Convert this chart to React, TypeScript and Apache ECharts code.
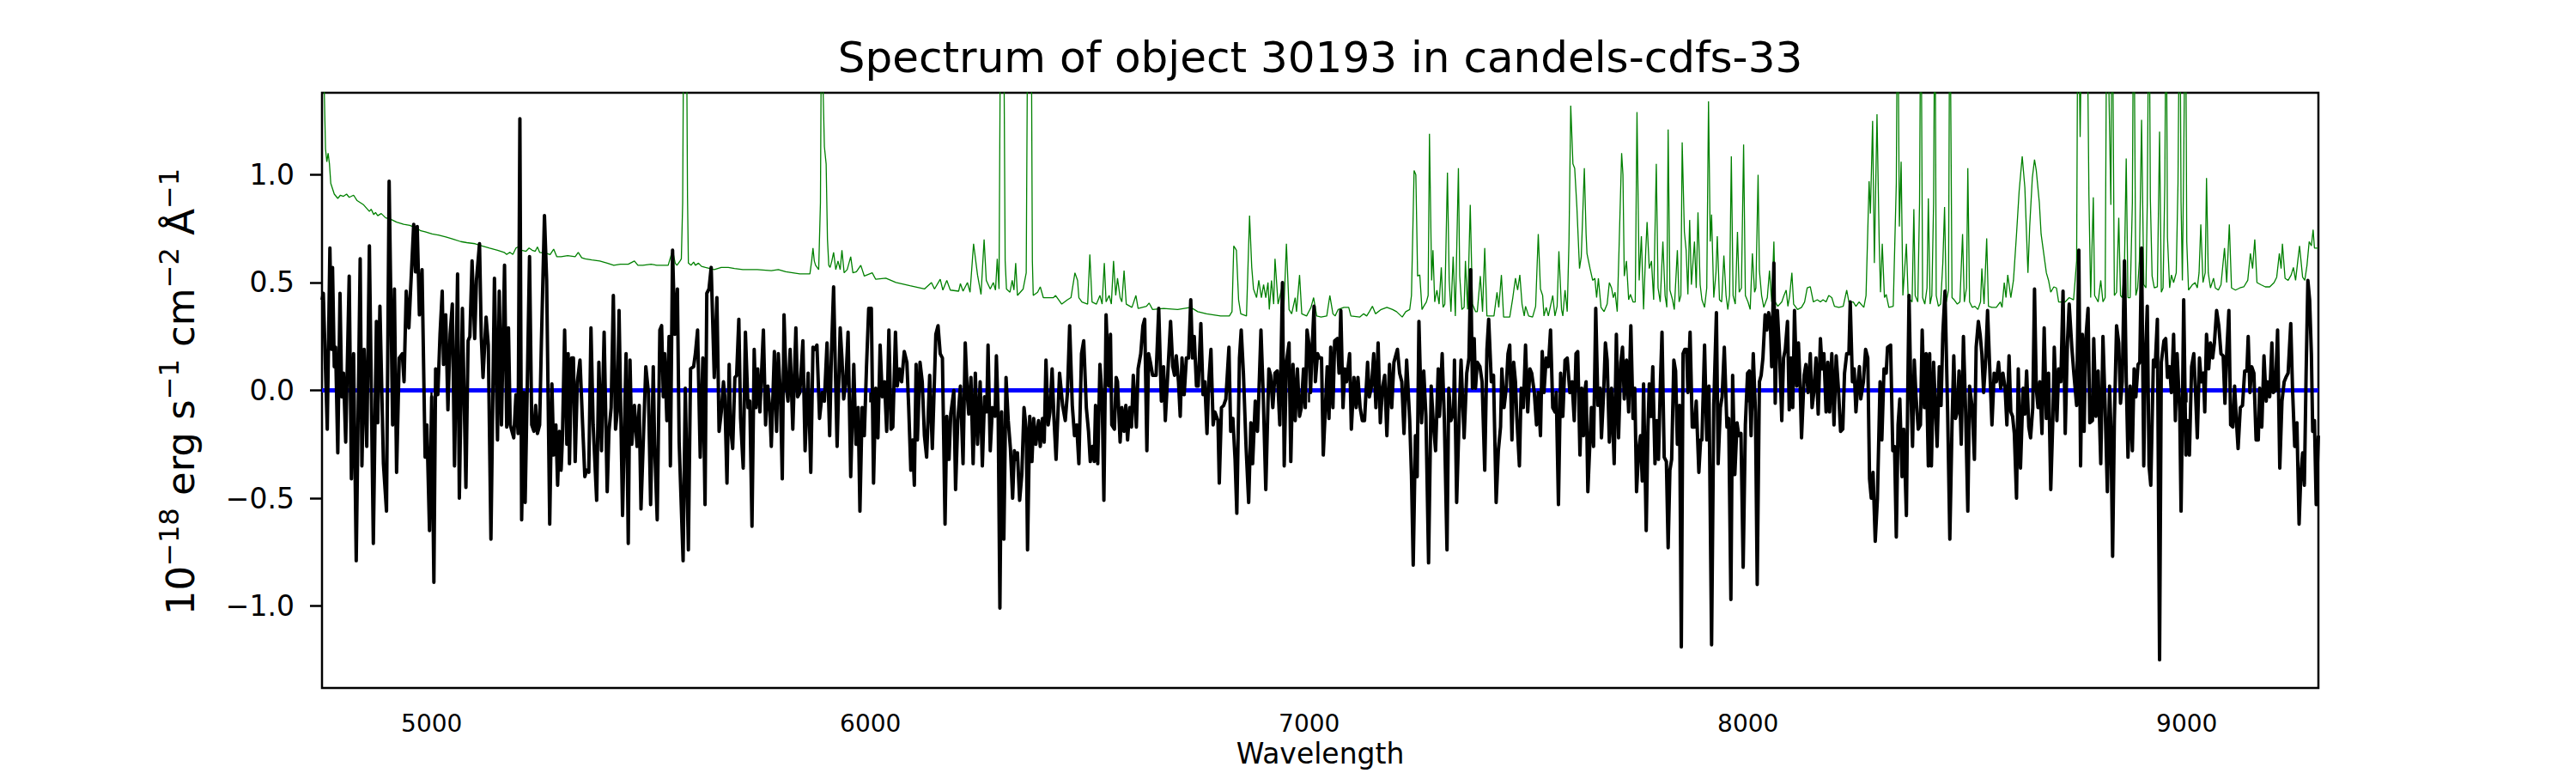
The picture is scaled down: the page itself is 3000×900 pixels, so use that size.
import React, { useEffect, useRef } from "react";
import * as echarts from "echarts";

const titleText = "Spectrum of object 30193 in candels-cdfs-33";
const xAxisTitle = "Wavelength";
const xRange = [4750, 9300];
const yRange = [-1.38, 1.38];
const xTicks = [5000, 6000, 7000, 8000, 9000];
const yTicks = [-1, -0.5, 0, 0.5, 1];

// observed flux (black), 1e-18 erg/s/cm2/A
const fluxSpectrum: [number, number][] = [
  [4750,0.42],[4753,0.45],[4762,-0.18],[4768,0.66],[4772,0.19],[4774,0.57],[4778,0.11],[4781,0.2],[4786,-0.29],[4791,0.45],[4795,-0.03],[4799,0.08],[4804,-0.24],[4812,0.53],[4817,-0.41],[4822,0.17],[4828,-0.79],[4837,0.61],[4841,-0.35],[4846,0.19],[4852,-0.26],[4858,0.67],[4867,-0.71],[4874,0.32],[4877,-0.15],[4882,0.39],[4890,-0.34],[4897,-0.56],[4903,0.97],[4911,-0.16],[4915,0.47],[4920,-0.38],[4926,0.15],[4933,0.17],[4937,0.04],[4942,0.46],[4948,0.29],[4952,0.47],[4959,0.77],[4963,0.55],[4967,0.76],[4972,0.35],[4978,0.56],[4985,-0.31],[4989,-0.16],[4995,-0.65],[5000,-0.03],[5005,-0.89],[5009,0.1],[5014,-0.02],[5019,0.26],[5024,0.46],[5027,0.12],[5032,0.35],[5037,-0.09],[5042,0.26],[5047,0.4],[5052,-0.35],[5059,0.54],[5063,-0.5],[5070,0.38],[5078,-0.45],[5083,0.23],[5087,0.25],[5092,0.6],[5098,0.24],[5102,0.51],[5109,0.68],[5113,0.25],[5117,0.06],[5124,0.34],[5129,0.21],[5135,-0.69],[5143,0.52],[5150,-0.23],[5154,0.46],[5159,-0.16],[5166,0.58],[5171,-0.17],[5175,0.29],[5179,-0.16],[5187,-0.22],[5192,-0.02],[5197,-0.2],[5201,1.26],[5205,-0.6],[5210,-0.01],[5213,-0.52],[5218,0.04],[5223,0.62],[5228,-0.16],[5233,-0.19],[5237,-0.07],[5241,-0.2],[5246,-0.16],[5250,0.22],[5257,0.81],[5262,0.51],[5269,-0.62],[5274,0.03],[5278,-0.3],[5283,-0.16],[5287,-0.44],[5291,-0.19],[5295,-0.37],[5298,-0.22],[5303,0.28],[5308,-0.25],[5311,0.17],[5314,-0.34],[5319,0.15],[5323,0.15],
  [5327,-0.33],[5332,0.04],[5338,0.14],[5344,-0.16],[5349,-0.4],[5353,-0.37],[5358,-0.38],[5363,0.29],[5368,-0.16],[5376,-0.51],[5381,0.13],[5387,-0.28],[5393,0.27],[5400,-0.47],[5404,-0.19],[5409,-0.08],[5414,0.44],[5419,-0.18],[5423,-0.1],[5427,0.37],[5435,-0.58],[5443,0.17],[5448,-0.71],[5452,0.14],[5456,-0.25],[5462,-0.07],[5468,-0.26],[5473,-0.07],[5477,-0.55],[5484,-0.13],[5488,0.11],[5494,-0.01],[5499,-0.53],[5505,0.11],[5508,-0.25],[5514,-0.6],[5520,0.28],[5524,0.3],[5528,-0.03],[5531,0.17],[5536,-0.14],[5541,0.25],[5544,-0.35],[5549,0.65],[5554,0.26],[5560,0.47],[5564,-0.24],[5573,-0.79],[5578,0.01],[5585,-0.74],[5590,0.1],[5597,0.11],[5601,0.17],[5606,0.28],[5612,-0.31],[5618,0.15],[5623,-0.53],[5627,0.45],[5632,0.47],[5637,0.57],[5644,0.06],[5650,0.43],[5655,-0.19],[5660,-0.1],[5665,0.04],[5668,-0.03],[5673,-0.43],[5678,0.12],[5681,-0.17],[5686,-0.27],[5691,0.06],[5695,0.07],[5700,0.33],[5704,-0.13],[5710,-0.36],[5715,0.27],[5721,-0.08],[5725,-0.05],[5730,-0.63],[5735,0.19],[5739,-0.08],[5743,0.1],[5748,-0.1],[5756,0.28],[5761,-0.16],[5766,0.02],[5771,-0.1],[5774,-0.26],[5781,0.18],[5786,-0.19],[5790,0.17],[5795,-0.03],[5799,-0.41],[5803,0.35],[5808,0.02],[5812,-0.05],[5817,0.19],[5823,-0.18],[5830,0.29],[5834,-0.03],[5839,-0.01],[5846,0.23],[5851,-0.28],[5858,0.08],[5864,-0.38],[5869,0.2],[5873,0.19],[5878,0.21],[5884,-0.13],[5890,-0.01],[5895,-0.05],[5901,0.22],
  [5907,-0.21],[5911,0.17],[5916,0.48],[5920,0.1],[5924,-0.26],[5931,0.29],[5935,0.15],[5939,-0.04],[5944,0.04],[5949,0.27],[5955,-0.4],[5962,0.12],[5967,-0.25],[5972,-0.08],[5976,-0.56],[5981,-0.08],[5986,-0.21],[5991,0.11],[5996,0.38],[6002,0.38],[6007,-0.43],[6012,0.01],[6017,-0.22],[6022,0.21],[6027,-0.03],[6032,0.04],[6037,-0.19],[6042,0.28],[6047,-0.18],[6051,-0.17],[6057,0.27],[6061,0.02],[6066,0.1],[6071,0.04],[6077,0.18],[6083,0.13],[6087,-0.07],[6092,-0.37],[6096,-0.23],[6100,-0.44],[6104,0.12],[6107,-0.23],[6113,0.13],[6118,0.04],[6123,-0.21],[6128,-0.31],[6135,0.07],[6141,-0.27],[6149,0.26],[6154,0.3],[6159,0.17],[6164,0.15],[6170,-0.62],[6174,-0.12],[6179,-0.32],[6183,-0.11],[6190,0.0],[6194,-0.46],[6199,-0.14],[6205,0.02],[6211,-0.34],[6216,0.22],[6221,-0.03],[6224,-0.11],[6229,0.06],[6234,-0.34],[6239,0.08],[6244,-0.25],[6250,0.04],[6255,-0.35],[6260,-0.03],[6265,-0.1],[6268,0.21],[6273,-0.28],[6278,-0.08],[6284,-0.12],[6287,0.16],[6291,-0.1],[6295,-1.01],[6299,-0.1],[6304,-0.69],[6309,0.06],[6314,-0.14],[6319,-0.27],[6324,-0.5],[6328,-0.28],[6332,-0.32],[6335,-0.29],[6340,-0.51],[6345,-0.39],[6350,-0.08],[6355,-0.18],[6358,-0.74],[6363,-0.12],[6368,-0.33],[6372,-0.13],[6377,-0.25],[6383,-0.14],[6387,-0.26],[6392,-0.13],[6396,-0.24],[6400,0.14],[6405,-0.16],[6409,-0.1],[6414,0.1],[6418,-0.12],[6423,-0.32],[6431,0.08],[6438,-0.07],[6444,-0.14],[6449,-0.01],[6454,0.3],[6460,-0.07],[6465,-0.21],[6470,-0.16],[6475,-0.34],[6481,0.17],
  [6486,0.23],[6492,-0.08],[6497,-0.19],[6501,-0.33],[6506,-0.26],[6510,-0.33],[6513,-0.07],[6518,-0.34],[6523,0.12],[6528,-0.03],[6532,-0.51],[6537,0.35],[6543,0.02],[6547,0.26],[6550,-0.16],[6556,-0.18],[6560,0.06],[6563,0.04],[6569,-0.24],[6573,-0.08],[6578,-0.19],[6582,-0.07],[6586,-0.23],[6591,-0.08],[6595,-0.17],[6599,0.07],[6606,-0.17],[6610,0.1],[6616,0.17],[6621,0.3],[6625,0.33],[6630,-0.28],[6634,0.17],[6638,0.13],[6643,0.07],[6651,0.07],[6657,0.38],[6663,-0.05],[6668,0.11],[6672,-0.14],[6678,0.09],[6684,0.32],[6689,0.11],[6693,0.07],[6697,0.16],[6702,0.04],[6706,-0.12],[6710,0.15],[6715,-0.02],[6720,0.15],[6725,0.15],[6730,0.42],[6734,0.15],[6738,0.25],[6743,0.02],[6747,0.02],[6753,0.31],[6758,-0.02],[6762,0.04],[6767,-0.2],[6771,0.04],[6776,0.19],[6781,-0.16],[6785,-0.1],[6792,-0.14],[6795,-0.43],[6800,-0.08],[6805,-0.07],[6810,-0.04],[6817,0.2],[6821,-0.19],[6826,-0.13],[6831,-0.32],[6835,-0.57],[6841,0.15],[6845,0.28],[6850,0.08],[6856,-0.26],[6862,-0.52],[6867,-0.15],[6871,-0.34],[6877,-0.05],[6882,-0.19],[6885,-0.03],[6890,0.28],[6895,-0.01],[6901,-0.46],[6908,0.1],[6912,0.07],[6917,-0.08],[6922,0.08],[6927,0.09],[6933,-0.16],[6939,0.5],[6943,-0.35],[6948,0.13],[6954,0.22],[6958,-0.33],[6963,0.12],[6968,-0.14],[6973,0.1],[6978,-0.12],[6982,-0.08],[6987,0.1],[6991,-0.08],[6995,0.28],[6999,0.22],[7003,-0.01],[7006,0.17],[7011,0.39],[7014,0.04],[7019,0.17],[7023,0.15],[7028,0.15],[7032,-0.3],[7036,-0.12],[7041,0.11],[7045,-0.13],[7049,0.2],[7054,-0.08],[7058,0.23],
  [7064,0.24],[7068,0.08],[7072,0.37],[7077,-0.08],[7081,0.1],[7085,0.04],[7092,0.17],[7096,-0.18],[7102,0.06],[7107,-0.08],[7111,0.06],[7116,-0.08],[7121,-0.14],[7126,-0.14],[7133,0.13],[7137,-0.03],[7142,0.02],[7147,0.17],[7152,-0.08],[7157,0.22],[7162,-0.15],[7167,0.01],[7172,0.07],[7177,-0.21],[7183,0.12],[7188,-0.08],[7193,0.13],[7201,0.19],[7206,0.08],[7211,0.04],[7216,-0.2],[7222,0.14],[7229,-0.14],[7233,-0.39],[7237,-0.81],[7242,-0.21],[7246,-0.4],[7250,0.32],[7256,-0.15],[7261,0.09],[7266,-0.12],[7272,-0.8],[7278,0.02],[7283,-0.16],[7288,-0.28],[7294,0.1],[7297,-0.12],[7303,0.17],[7308,-0.14],[7314,-0.74],[7318,0.01],[7323,-0.14],[7329,-0.1],[7331,0.14],[7336,-0.52],[7342,-0.1],[7346,0.14],[7353,-0.22],[7359,0.08],[7364,0.15],[7368,0.56],[7372,0.01],[7376,0.24],[7379,0.01],[7383,0.13],[7389,0.11],[7394,0.04],[7400,-0.37],[7405,0.19],[7409,0.33],[7415,0.04],[7420,0.07],[7426,-0.52],[7431,-0.28],[7436,-0.17],[7439,0.1],[7444,-0.08],[7449,0.01],[7453,0.17],[7457,0.21],[7462,-0.23],[7466,0.13],[7470,0.04],[7473,-0.12],[7479,-0.35],[7483,0.01],[7488,-0.08],[7493,0.21],[7498,-0.1],[7503,0.1],[7507,0.08],[7513,-0.01],[7518,-0.16],[7522,-0.01],[7527,-0.21],[7531,0.18],[7535,-0.01],[7540,0.15],[7545,0.11],[7550,0.28],[7555,-0.08],[7560,-0.1],[7563,-0.01],[7568,-0.53],[7573,0.08],[7578,-0.12],[7583,0.14],[7588,0.15],[7594,-0.01],[7599,0.04],[7604,-0.14],[7608,0.17],[7612,0.18],[7617,-0.3],[7621,0.01],[7625,-0.21],[7629,0.01],[7631,0.04],[7635,-0.47],
  [7643,-0.08],[7648,-0.26],[7653,0.38],[7658,-0.07],[7663,0.01],[7666,-0.22],[7671,-0.01],[7675,0.22],[7679,0.14],[7684,-0.24],[7689,0.01],[7695,-0.34],[7700,0.26],[7705,-0.22],[7710,0.13],[7714,0.2],[7718,-0.04],[7723,0.14],[7728,-0.1],[7733,0.3],[7738,-0.13],[7742,0.01],[7746,-0.47],[7751,-0.27],[7755,-0.21],[7759,-0.42],[7762,0.03],[7768,-0.65],[7772,-0.17],[7775,0.03],[7779,-0.12],[7783,0.11],[7788,-0.34],[7792,-0.14],[7796,-0.32],[7800,0.01],[7804,0.27],[7809,-0.31],[7814,-0.33],[7818,-0.73],[7822,-0.37],[7826,-0.32],[7831,0.14],[7835,0.09],[7839,-0.25],[7844,-0.07],[7848,-1.19],[7852,0.17],[7856,0.19],[7860,0.19],[7863,-0.01],[7868,0.27],[7873,-0.17],[7878,-0.17],[7882,-0.05],[7888,-0.38],[7892,-0.23],[7895,-0.23],[7901,0.21],[7906,-0.23],[7911,0.02],[7917,-1.18],[7922,-0.07],[7928,0.36],[7932,-0.34],[7937,-0.08],[7941,-0.03],[7946,0.2],[7952,-0.17],[7956,-0.13],[7961,-0.97],[7965,0.07],[7970,-0.39],[7975,-0.15],[7979,-0.21],[7984,-0.2],[7989,-0.82],[7994,-0.16],[7999,0.08],[8003,0.09],[8007,-0.21],[8012,0.17],[8017,-0.1],[8021,-0.9],[8026,0.04],[8030,0.07],[8034,0.15],[8039,0.35],[8043,0.28],[8047,0.36],[8051,0.31],[8054,0.11],[8059,0.59],[8062,-0.06],[8067,0.37],[8072,0.17],[8077,-0.14],[8081,0.15],[8085,0.19],[8090,0.32],[8094,-0.09],[8098,0.15],[8102,-0.08],[8106,0.37],[8111,0.02],[8115,0.22],[8119,0.01],[8122,-0.22],[8128,0.07],[8132,0.12],[8137,-0.01],[8142,0.17],[8146,-0.08],[8150,-0.01],[8155,0.15],[8160,-0.11],[8165,0.24],[8169,0.1],[8173,0.17],[8178,-0.1],[8182,0.13],[8186,-0.1],[8191,0.17],[8196,-0.16],[8201,0.16],[8206,0.01],[8211,-0.19],
  [8216,-0.18],[8220,0.08],[8225,0.17],[8230,0.17],[8233,0.41],[8238,0.04],[8242,0.1],[8246,-0.1],[8250,0.02],[8254,0.11],[8257,-0.04],[8263,0.04],[8268,0.19],[8273,0.15],[8277,-0.41],[8281,-0.5],[8285,-0.38],[8290,-0.7],[8295,-0.5],[8301,0.04],[8305,-0.23],[8310,0.1],[8315,0.08],[8318,0.2],[8325,0.21],[8330,-0.28],[8334,-0.26],[8338,-0.68],[8342,-0.16],[8346,-0.04],[8351,-0.4],[8355,-0.18],[8361,-0.58],[8364,-0.03],[8367,0.44],[8371,0.01],[8375,-0.26],[8379,0.14],[8383,-0.03],[8388,-0.18],[8393,-0.16],[8397,0.28],[8402,-0.08],[8406,0.17],[8411,-0.35],[8414,0.17],[8418,-0.35],[8423,0.13],[8427,-0.07],[8431,-0.26],[8436,0.11],[8440,-0.07],[8444,0.26],[8449,0.46],[8455,-0.1],[8460,-0.69],[8465,-0.16],[8469,0.16],[8473,-0.13],[8477,-0.1],[8481,0.09],[8486,-0.25],[8491,0.25],[8496,-0.1],[8501,-0.56],[8505,0.02],[8511,-0.08],[8516,-0.32],[8520,0.2],[8525,0.32],[8529,0.26],[8533,0.17],[8537,-0.01],[8542,0.15],[8546,0.37],[8551,0.1],[8556,-0.16],[8561,0.08],[8566,0.04],[8571,0.13],[8576,0.01],[8581,0.08],[8586,0.01],[8590,-0.16],[8595,0.16],[8599,-0.1],[8603,-0.12],[8607,-0.2],[8612,-0.5],[8616,0.1],[8621,-0.36],[8627,0.01],[8631,-0.11],[8635,0.09],[8640,-0.17],[8644,-0.22],[8649,-0.08],[8653,0.47],[8657,0.01],[8661,-0.08],[8665,0.04],[8670,-0.2],[8675,0.29],[8680,-0.13],[8685,0.08],[8690,-0.46],[8695,-0.12],[8698,0.2],[8704,-0.14],[8708,0.1],[8713,0.04],[8718,0.46],[8723,-0.2],[8728,0.22],[8732,0.4],[8738,0.2],[8743,0.07],[8749,-0.07],[8754,0.65],[8758,-0.35],[8762,0.26],[8766,-0.19],[8770,0.24],[8775,0.38],[8779,-0.15],[8785,-0.14],[8788,0.24],
  [8793,-0.12],[8798,0.09],[8804,-0.34],[8809,0.25],[8814,-0.08],[8819,-0.47],[8824,0.02],[8827,-0.17],[8831,-0.77],[8835,-0.14],[8840,0.3],[8845,0.22],[8849,-0.06],[8853,0.04],[8858,0.6],[8862,0.06],[8866,-0.31],[8871,0.02],[8876,-0.28],[8880,0.1],[8884,-0.03],[8889,0.12],[8893,0.13],[8897,0.66],[8902,-0.35],[8905,0.1],[8910,0.39],[8914,-0.35],[8918,-0.44],[8924,0.14],[8928,0.11],[8933,0.33],[8938,-1.25],[8942,0.13],[8948,0.23],[8952,0.24],[8956,0.06],[8961,0.11],[8965,-0.01],[8970,0.26],[8974,-0.14],[8978,0.17],[8984,-0.1],[8987,-0.56],[8990,-0.1],[8993,0.42],[8998,-0.3],[9002,-0.14],[9006,-0.3],[9011,0.11],[9016,0.17],[9020,-0.01],[9024,-0.22],[9029,0.15],[9033,0.04],[9038,0.08],[9041,-0.1],[9045,0.26],[9050,0.1],[9054,0.22],[9059,0.15],[9063,0.22],[9068,0.37],[9073,0.3],[9078,0.17],[9083,0.16],[9087,-0.06],[9091,0.17],[9096,0.37],[9100,-0.16],[9105,-0.17],[9109,0.02],[9114,-0.17],[9117,-0.27],[9122,-0.08],[9127,-0.07],[9132,0.09],[9137,0.09],[9140,0.25],[9144,-0.01],[9148,0.11],[9153,0.08],[9158,-0.23],[9163,-0.23],[9166,0.01],[9171,-0.17],[9176,0.16],[9181,-0.05],[9184,0.04],[9189,-0.03],[9194,0.22],[9197,-0.01],[9202,0.0],[9207,0.28],[9212,-0.36],[9217,-0.05],[9222,0.04],[9226,0.06],[9231,0.08],[9237,0.31],[9241,0.01],[9246,-0.26],[9251,-0.15],[9256,-0.62],[9260,-0.39],[9264,-0.29],[9268,-0.44],[9272,0.08],[9276,0.51],[9280,0.42],[9284,0.17],[9287,-0.19],[9291,-0.14],[9295,-0.53],[9300,-0.21]
];

// noise / sky spectrum (green)
const errorSpectrum: [number, number][] = [
  [4750,1.9],[4754,1.5],[4758,1.12],[4761,1.06],[4764,1.1],[4767,1.05],[4770,0.96],[4778,0.91],[4786,0.89],[4792,0.905],[4799,0.9],[4806,0.91],[4812,0.895],[4822,0.905],[4830,0.88],[4845,0.86],[4858,0.83],[4862,0.84],[4868,0.815],[4872,0.825],[4877,0.81],[4885,0.82],[4895,0.8],[4905,0.795],[4910,0.79],[4920,0.78],[4936,0.77],[4950,0.765],[4968,0.75],[4975,0.74],[4985,0.735],[5001,0.725],[5015,0.72],[5034,0.71],[5050,0.7],[5066,0.69],[5080,0.685],[5099,0.68],[5115,0.67],[5132,0.66],[5150,0.65],[5165,0.64],[5171,0.63],[5178,0.64],[5185,0.63],[5192,0.66],[5197,0.665],[5205,0.65],[5215,0.645],[5222,0.66],[5229,0.65],[5236,0.645],[5241,0.665],[5246,0.64],[5262,0.635],[5270,0.63],[5278,0.655],[5285,0.62],[5295,0.62],[5310,0.625],[5327,0.62],
  [5334,0.64],[5342,0.615],[5350,0.61],[5365,0.605],[5383,0.6],[5400,0.59],[5415,0.58],[5430,0.585],[5448,0.585],[5462,0.6],[5470,0.58],[5481,0.58],[5500,0.585],[5513,0.58],[5539,0.58],[5549,0.65],[5555,0.59],[5559,0.58],[5566,0.6],[5569,0.61],[5572,0.87],[5575,2.0],[5580,2.0],[5583,0.9],[5585,0.59],[5591,0.58],[5597,0.595],[5601,0.58],[5608,0.59],[5615,0.575],[5624,0.57],[5644,0.56],[5660,0.57],[5676,0.57],[5690,0.565],[5709,0.56],[5742,0.56],[5774,0.555],[5790,0.56],[5807,0.55],[5839,0.54],[5862,0.54],[5866,0.6],[5869,0.66],[5872,0.6],[5875,0.58],[5882,0.56],[5886,0.87],[5889,2.0],[5892,1.4],[5895,1.13],[5899,1.05],[5902,0.7],[5905,0.58],
  [5908,0.57],[5912,0.6],[5916,0.64],[5921,0.56],[5926,0.6],[5931,0.56],[5935,0.65],[5940,0.545],[5947,0.56],[5955,0.62],[5960,0.545],[5968,0.55],[5978,0.58],[5986,0.53],[6004,0.545],[6012,0.515],[6035,0.52],[6058,0.5],[6090,0.485],[6123,0.47],[6139,0.5],[6146,0.47],[6159,0.515],[6165,0.465],[6174,0.51],[6182,0.465],[6201,0.46],[6205,0.495],[6211,0.46],[6221,0.5],[6227,0.455],[6235,0.68],[6244,0.535],[6252,0.445],[6259,0.7],[6264,0.51],[6273,0.47],[6280,0.5],[6285,0.465],[6289,0.61],[6293,0.47],[6297,2.0],[6303,2.0],[6307,0.6],[6310,0.47],[6318,0.455],[6323,0.51],[6327,0.465],[6331,0.59],[6335,0.44],[6348,0.47],[6355,0.545],[6359,2.0],[6366,2.0],[6369,0.6],[6371,0.44],[6381,0.455],[6387,0.48],[6394,0.43],[6417,0.43],[6422,0.44],[6436,0.4],[6449,0.42],[6457,0.43],[6466,0.545],[6472,0.51],[6475,0.43],[6482,0.41],
  [6495,0.4],[6500,0.63],[6505,0.41],[6515,0.4],[6523,0.44],[6528,0.4],[6533,0.59],[6537,0.41],[6544,0.44],[6549,0.4],[6554,0.6],[6559,0.44],[6563,0.52],[6569,0.43],[6573,0.41],[6578,0.555],[6583,0.4],[6596,0.385],[6605,0.44],[6610,0.38],[6629,0.39],[6635,0.405],[6643,0.375],[6668,0.38],[6700,0.375],[6730,0.385],[6746,0.365],[6766,0.355],[6798,0.345],[6818,0.345],[6824,0.365],[6828,0.67],[6834,0.65],[6839,0.42],[6844,0.355],[6857,0.345],[6864,0.81],[6869,0.57],[6873,0.47],[6880,0.43],[6885,0.51],[6891,0.43],[6896,0.49],[6901,0.43],[6906,0.5],[6909,0.375],[6914,0.51],[6919,0.4],[6922,0.61],[6929,0.4],[6937,0.47],[6942,0.365],[6948,0.68],[6954,0.375],[6960,0.355],[6968,0.43],[6971,0.365],[6978,0.535],[6983,0.355],[6994,0.345],[7004,0.385],[7010,0.43],[7017,0.345],[7027,0.34],[7040,0.345],[7047,0.44],[7054,0.355],
  [7059,0.345],[7066,0.375],[7079,0.385],[7090,0.385],[7095,0.345],[7115,0.34],[7124,0.355],[7131,0.345],[7137,0.365],[7144,0.39],[7151,0.355],[7164,0.375],[7177,0.385],[7190,0.375],[7199,0.365],[7212,0.34],[7220,0.365],[7229,0.375],[7233,0.44],[7239,1.02],[7243,1.0],[7247,0.53],[7252,0.535],[7257,0.375],[7261,0.39],[7267,0.41],[7271,0.44],[7274,1.19],[7279,0.51],[7282,0.65],[7286,0.41],[7291,0.465],[7296,0.4],[7301,0.57],[7305,0.385],[7309,0.4],[7315,1.01],[7319,0.51],[7323,0.365],[7328,0.62],[7333,0.345],[7340,1.03],[7343,0.53],[7348,0.375],[7353,0.385],[7356,0.6],[7361,0.375],[7367,0.86],[7372,0.4],[7379,0.365],[7383,0.365],[7390,0.53],[7395,0.365],[7400,0.66],[7405,0.345],[7421,0.345],[7428,0.455],[7432,0.385],[7438,0.535],[7443,0.34],[7457,0.34],[7464,0.43],[7470,0.52],[7475,0.465],[7480,0.535],[7485,0.4],[7490,0.345],[7493,0.39],[7500,0.345],[7509,0.34],[7516,0.39],[7522,0.725],[7527,0.47],[7532,0.44],[7535,0.345],[7540,0.385],[7545,0.345],[7555,0.44],[7560,0.345],[7565,0.39],[7569,0.645],[7575,0.375],[7578,0.345],[7583,0.465],[7588,0.365],[7592,0.69],[7596,1.32],[7601,1.05],[7605,1.03],[7610,0.85],[7616,0.565],[7620,0.62],[7627,1.03],[7631,0.725],[7633,0.635],
  [7640,0.565],[7646,0.51],[7651,0.52],[7655,0.43],[7659,0.52],[7665,0.385],[7672,0.365],[7679,0.4],[7684,0.5],[7689,0.475],[7693,0.43],[7697,0.455],[7702,0.365],[7706,0.65],[7712,1.1],[7715,1.0],[7718,0.53],[7723,0.6],[7728,0.42],[7732,0.445],[7738,0.41],[7743,0.41],[7747,1.29],[7752,0.51],[7757,0.715],[7762,0.375],[7767,0.65],[7770,0.78],[7775,0.565],[7780,0.6],[7785,0.42],[7791,1.05],[7795,0.475],[7800,0.41],[7806,0.69],[7811,0.44],[7815,0.385],[7818,1.21],[7822,0.465],[7828,0.42],[7832,0.375],[7839,0.65],[7843,0.41],[7847,0.44],[7850,1.15],[7855,0.735],[7859,0.65],[7863,0.445],[7867,0.79],[7871,0.49],[7878,0.69],[7882,0.475],[7886,0.825],[7891,0.49],[7895,0.42],[7901,0.385],[7906,0.475],[7910,1.34],[7914,0.69],[7917,0.815],[7922,0.43],[7927,0.545],[7930,0.715],[7935,0.42],[7940,0.41],[7945,0.625],[7950,0.44],[7954,0.375],[7958,0.44],[7962,1.085],[7966,0.44],[7971,0.4],[7976,0.735],[7980,0.455],[7985,0.475],[7990,1.14],[7994,0.44],[8000,0.41],[8005,0.375],[8010,0.635],[8015,0.455],[8018,0.475],[8023,1.0],[8026,0.555],[8031,0.44],[8036,0.385],[8044,0.43],[8049,0.555],[8054,0.41],[8059,0.69],[8062,0.41],[8068,0.39],[8077,0.41],[8082,0.44],[8087,0.465],[8091,0.39],[8095,0.44],[8100,0.545],[8104,0.4],[8113,0.375],[8122,0.385],[8129,0.41],[8135,0.475],[8142,0.48],[8149,0.41],[8158,0.42],[8165,0.41],[8171,0.42],[8178,0.41],[8184,0.44],[8191,0.43],[8197,0.39],[8207,0.385],
  [8217,0.39],[8225,0.465],[8230,0.41],[8240,0.41],[8246,0.39],[8253,0.41],[8264,0.385],[8269,0.44],[8276,0.97],[8279,0.82],[8284,1.25],[8288,0.59],[8294,1.28],[8299,0.69],[8302,0.455],[8306,0.68],[8311,0.43],[8315,0.445],[8321,0.385],[8331,0.39],[8338,0.96],[8341,2.0],[8345,0.76],[8349,1.06],[8353,0.44],[8361,0.68],[8365,0.43],[8374,0.41],[8378,0.84],[8381,0.44],[8387,0.41],[8391,0.87],[8394,2.0],[8398,0.43],[8403,0.4],[8408,0.475],[8411,0.89],[8415,0.4],[8419,0.44],[8423,0.87],[8426,2.0],[8429,0.44],[8434,0.39],[8439,0.4],[8444,0.59],[8448,0.85],[8452,0.41],[8457,0.465],[8460,2.0],[8465,0.43],[8470,0.42],[8477,0.4],[8483,0.41],[8489,0.725],[8493,0.41],[8498,0.475],[8501,1.03],[8505,0.41],[8511,0.385],[8517,0.39],[8524,0.375],[8530,0.41],[8533,0.565],[8538,0.4],[8544,0.705],[8548,0.39],[8556,0.385],[8566,0.385],[8575,0.41],[8579,0.385],[8584,0.5],[8588,0.43],[8592,0.535],[8599,0.43],[8605,0.51],[8612,0.725],[8618,0.925],[8625,1.085],[8631,0.94],[8638,0.545],[8642,0.76],[8648,0.985],[8653,1.07],[8657,1.02],[8664,0.87],[8668,0.725],[8674,0.635],[8680,0.545],[8685,0.51],[8690,0.455],[8697,0.48],[8703,0.475],[8708,0.41],[8723,0.41],[8732,0.43],[8742,0.42],[8749,0.6],[8752,2.0],[8757,1.175],[8762,2.0],[8766,2.0],[8772,2.0],[8777,0.905],[8781,0.43],[8787,0.895],[8790,0.44],
  [8798,0.41],[8804,0.51],[8809,0.41],[8814,0.43],[8818,2.0],[8823,1.34],[8827,0.86],[8830,2.0],[8835,0.44],[8840,0.455],[8845,0.8],[8849,0.44],[8853,0.43],[8858,0.58],[8862,1.075],[8866,0.43],[8871,0.43],[8876,0.87],[8879,2.0],[8884,0.44],[8888,0.475],[8892,0.6],[8897,1.255],[8902,0.49],[8907,0.475],[8910,0.87],[8914,2.0],[8917,0.89],[8921,0.53],[8926,0.475],[8933,0.48],[8938,1.2],[8942,0.455],[8946,0.475],[8950,0.96],[8953,2.0],[8956,0.71],[8961,0.475],[8965,0.535],[8970,0.5],[8976,0.545],[8980,0.96],[8984,2.0],[8987,0.87],[8990,0.51],[8993,1.05],[8997,2.0],[9000,0.69],[9004,0.465],[9013,0.49],[9019,0.5],[9024,0.475],[9028,0.545],[9032,0.77],[9037,0.5],[9042,0.545],[9045,0.985],[9049,0.545],[9054,0.475],[9061,0.52],[9065,0.475],[9072,0.465],[9078,0.49],[9086,0.66],[9091,0.5],[9097,0.77],[9102,0.475],[9111,0.465],[9121,0.475],[9130,0.48],[9139,0.51],[9145,0.635],[9150,0.565],[9155,0.7],[9160,0.5],[9169,0.49],[9179,0.48],[9189,0.48],[9199,0.5],[9205,0.525],[9211,0.635],[9215,0.565],[9218,0.68],[9224,0.52],[9231,0.51],[9238,0.535],[9243,0.57],[9248,0.51],[9253,0.6],[9257,0.67],[9264,0.525],[9269,0.51],[9274,0.58],[9279,0.69],[9284,0.67],[9288,0.745],[9291,0.66],[9297,0.66],[9300,0.66]
];

// model / zero level (blue)
const modelSpectrum: [number, number][] = [
  [4750, 0],
  [9300, 0],
];

const FONT = "DejaVu Sans";

function fmtY(v: number): string {
  const s = Math.abs(v).toFixed(1);
  return v < 0 ? "\u2212" + s : s;
}

function fmtX(v: number): string {
  return String(Math.round(v));
}

export default function App() {
  const ref = useRef<HTMLDivElement>(null);

  useEffect(() => {
    document.body.style.margin = "0";
    if (!ref.current) return;
    const chart = echarts.init(ref.current, null, { renderer: "svg" });
    chart.setOption({
      animation: false,
      backgroundColor: "#ffffff",
      textStyle: { fontFamily: FONT },
      title: {
        text: titleText,
        left: 1537.5,
        top: 42,
        padding: 0,
        textAlign: "center",
        textStyle: { fontFamily: FONT, fontSize: 50, fontWeight: "normal", color: "#000" },
      },
      grid: {
        left: 375,
        right: 300,
        top: 108,
        bottom: 99,
        show: true,
        borderColor: "#000",
        borderWidth: 2.5,
        backgroundColor: "transparent",
        containLabel: false,
        outerBoundsMode: "none",
      },
      xAxis: {
        type: "value",
        min: xRange[0],
        max: xRange[1],
        name: xAxisTitle,
        nameLocation: "middle",
        nameGap: 58,
        nameTextStyle: { fontFamily: FONT, fontSize: 33, color: "#000" },
        axisLine: { show: false },
        splitLine: { show: false },
        axisTick: { show: true, length: 14, lineStyle: { color: "#000", width: 2.5 }, customValues: xTicks },
        axisLabel: {
          show: true,
          customValues: xTicks,
          formatter: (v: number) => fmtX(v),
          fontFamily: FONT,
          fontSize: 28,
          color: "#000",
          margin: 27,
        },
      },
      yAxis: {
        type: "value",
        min: yRange[0],
        max: yRange[1],
        axisLine: { show: false },
        splitLine: { show: false },
        axisTick: { show: true, length: 14, lineStyle: { color: "#000", width: 2.5 }, customValues: yTicks },
        axisLabel: {
          show: true,
          customValues: yTicks,
          formatter: (v: number) => fmtY(v),
          fontFamily: FONT,
          fontSize: 33,
          color: "#000",
          margin: 32,
        },
      },
      graphic: [
        {
          type: "text",
          x: 210,
          y: 456,
          rotation: Math.PI / 2,
          silent: true,
          style: {
            text: "{m|10}{s|\u221218}{m| erg s}{s|\u22121}{m| cm}{s|\u22122}{m| \u00C5}{s|\u22121}",
            fill: "#000",
            fontFamily: FONT,
            fontSize: 45,
            align: "center",
            verticalAlign: "middle",
            rich: {
              m: { fontFamily: FONT, fontSize: 45, lineHeight: 59, fill: "#000" },
              s: { fontFamily: FONT, fontSize: 32, lineHeight: 33, verticalAlign: "top", fill: "#000" },
            },
          },
        },
      ],
      series: [
        {
          type: "line",
          name: "error",
          data: errorSpectrum,
          showSymbol: false,
          symbol: "none",
          clip: true,
          silent: true,
          lineStyle: { color: "#008000", width: 1.3 },
          emphasis: { disabled: true },
          z: 2,
        },
        {
          type: "line",
          name: "model",
          data: modelSpectrum,
          showSymbol: false,
          symbol: "none",
          clip: true,
          silent: true,
          lineStyle: { color: "#0000ff", width: 5 },
          emphasis: { disabled: true },
          z: 3,
        },
        {
          type: "line",
          name: "flux",
          data: fluxSpectrum,
          showSymbol: false,
          symbol: "none",
          clip: true,
          silent: true,
          lineStyle: { color: "#000000", width: 4, join: "round" },
          emphasis: { disabled: true },
          z: 4,
        },
      ],
    });
    return () => chart.dispose();
  }, []);

  return <div ref={ref} style={{ width: 3000, height: 900 }} />;
}
